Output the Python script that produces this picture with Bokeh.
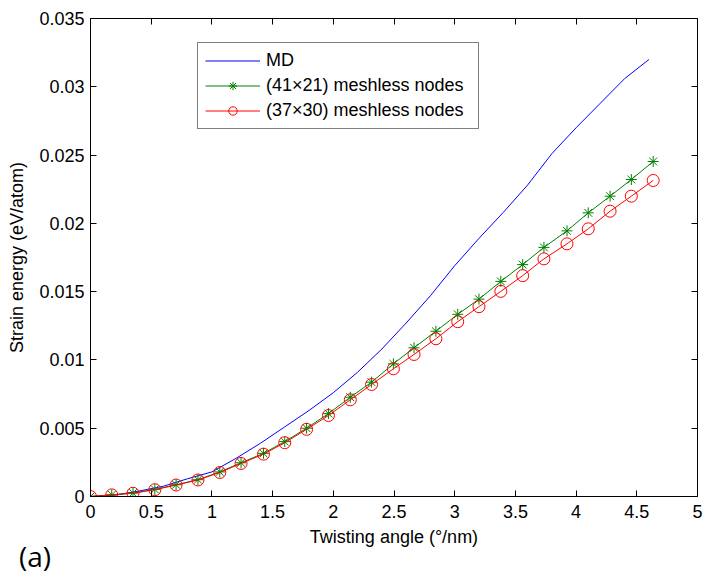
from bokeh.plotting import figure
from bokeh.models import Range1d, FixedTicker, LinearAxis, Legend, LegendItem, Div
from bokeh.layouts import column
from bokeh.embed import file_html
from bokeh.resources import INLINE

# ---- data ----
md_angle = [0, 0.2, 0.4, 0.6, 0.8, 1.0, 1.2, 1.4, 1.6, 1.8, 2.0, 2.2, 2.4, 2.6,
            2.8, 3.0, 3.2, 3.4, 3.6, 3.8, 4.0, 4.2, 4.4, 4.6]
md_energy = [0, 0.0001, 0.0004, 0.00075, 0.0013, 0.0018, 0.0028, 0.0039, 0.0051,
             0.0063, 0.0076, 0.0091, 0.0108, 0.0127, 0.0147, 0.0169, 0.0189,
             0.0208, 0.0228, 0.0251, 0.0270, 0.0288, 0.0306, 0.0320]

node_angle = [0, 0.175, 0.35, 0.53, 0.705, 0.885, 1.065, 1.24, 1.425, 1.6, 1.78,
              1.96, 2.14, 2.315, 2.495, 2.665, 2.845, 3.025, 3.2, 3.38, 3.56,
              3.735, 3.925, 4.1, 4.28, 4.455, 4.635]
energy_41x21 = [0, 0.00012, 0.00025, 0.00052, 0.00086, 0.00123, 0.0018, 0.00247,
                0.00316, 0.00402, 0.005, 0.00607, 0.00727, 0.00837, 0.00971,
                0.01089, 0.0121, 0.01334, 0.01445, 0.01575, 0.01698, 0.01824,
                0.01945, 0.02077, 0.02199, 0.02321, 0.02453]
energy_37x30 = [0, 0.00012, 0.00024, 0.0005, 0.00084, 0.00121, 0.00176, 0.00242,
                0.0031, 0.00394, 0.00492, 0.00593, 0.00708, 0.0082, 0.00935,
                0.0104, 0.01155, 0.0128, 0.0139, 0.01502, 0.01617, 0.0174,
                0.0185, 0.0196, 0.02089, 0.02199, 0.02314]

x_ticks = [0, 0.5, 1, 1.5, 2, 2.5, 3, 3.5, 4, 4.5, 5]
x_tick_labels = ["0", "0.5", "1", "1.5", "2", "2.5", "3", "3.5", "4", "4.5", "5"]
y_ticks = [0, 0.005, 0.01, 0.015, 0.02, 0.025, 0.03, 0.035]
y_tick_labels = ["0", "0.005", "0.01", "0.015", "0.02", "0.025", "0.03", "0.035"]

series_labels = ["MD", "(41\u00d721) meshless nodes", "(37\u00d730) meshless nodes"]
panel_tag = "(a)"

FONT = "Liberation Sans"
FS = "18px"

p = figure(width=706, height=583, output_backend="svg", toolbar_location=None,
           x_range=Range1d(0, 5), y_range=Range1d(0, 0.035),
           min_border_left=90, min_border_right=9, min_border_top=18,
           min_border_bottom=87)
p.outline_line_color = None
p.xgrid.visible = False
p.ygrid.visible = False
p.background_fill_color = "white"
p.border_fill_color = "white"

md = p.line(md_angle, md_energy, line_color="#0000ff", line_width=1)
gl = p.line(node_angle, energy_41x21, line_color="#008000", line_width=1)
gm = p.scatter(node_angle, energy_41x21, marker="asterisk", size=11,
               line_color="#008000", line_width=1)
rl = p.line(node_angle, energy_37x30, line_color="#ff0000", line_width=1)
rm = p.scatter(node_angle, energy_37x30, marker="circle", size=12,
               line_color="#ff0000", fill_color=None, line_width=1)


def style_axis(ax, ticks, labels, show_labels=True):
    ax.ticker = FixedTicker(ticks=ticks)
    ax.minor_tick_line_color = None
    ax.major_tick_in = 6
    ax.major_tick_out = 0
    ax.axis_line_color = "black"
    ax.major_tick_line_color = "black"
    ax.axis_line_width = 1
    ax.major_label_text_font = FONT
    ax.axis_label_text_font = FONT
    ax.axis_label_text_font_size = FS
    ax.axis_label_text_font_style = "normal"
    ax.axis_label_text_color = "black"
    if show_labels:
        ax.major_label_overrides = {t: l for t, l in zip(ticks, labels)}
        ax.major_label_text_font_size = FS
        ax.major_label_text_color = "black"
    else:
        ax.major_label_text_font_size = "0px"
        ax.major_label_text_color = None
        ax.major_label_standoff = 0


xa = p.xaxis[0]
style_axis(xa, x_ticks, x_tick_labels)
xa.axis_label = "Twisting angle (\u00b0/nm)"
xa.major_label_standoff = 8
xa.axis_label_standoff = 6

ya = p.yaxis[0]
style_axis(ya, y_ticks, y_tick_labels)
ya.axis_label = "Strain energy (eV/atom)"
ya.major_label_standoff = 6
ya.axis_label_standoff = 9

top_ax = LinearAxis()
style_axis(top_ax, x_ticks, x_tick_labels, show_labels=False)
p.add_layout(top_ax, "above")
right_ax = LinearAxis()
style_axis(right_ax, y_ticks, y_tick_labels, show_labels=False)
p.add_layout(right_ax, "right")

legend = Legend(items=[
    LegendItem(label=series_labels[0], renderers=[md]),
    LegendItem(label=series_labels[1], renderers=[gl, gm]),
    LegendItem(label=series_labels[2], renderers=[rl, rm]),
], location=(107, 367))
legend.margin = 0
legend.padding = 7
legend.spacing = 4
legend.glyph_width = 55
legend.glyph_height = 21
legend.label_height = 21
legend.label_width = 205
legend.label_standoff = 6
legend.label_text_font = FONT
legend.label_text_font_size = FS
legend.label_text_color = "black"
legend.border_line_color = "black"
legend.border_line_width = 1
legend.background_fill_color = "white"
legend.background_fill_alpha = 1
p.add_layout(legend, "center")

tag = Div(text=('<div style="font-family:\'Open Sans\';font-size:28px;'
                'line-height:38px;color:#000;margin:0;padding:0;'
                'white-space:nowrap">' + panel_tag + '</div>'),
          width=60, height=38, margin=(-46, 0, 0, 19))

layout = column(p, tag, spacing=0)

open("out.html", "w").write(file_html(layout, INLINE))
